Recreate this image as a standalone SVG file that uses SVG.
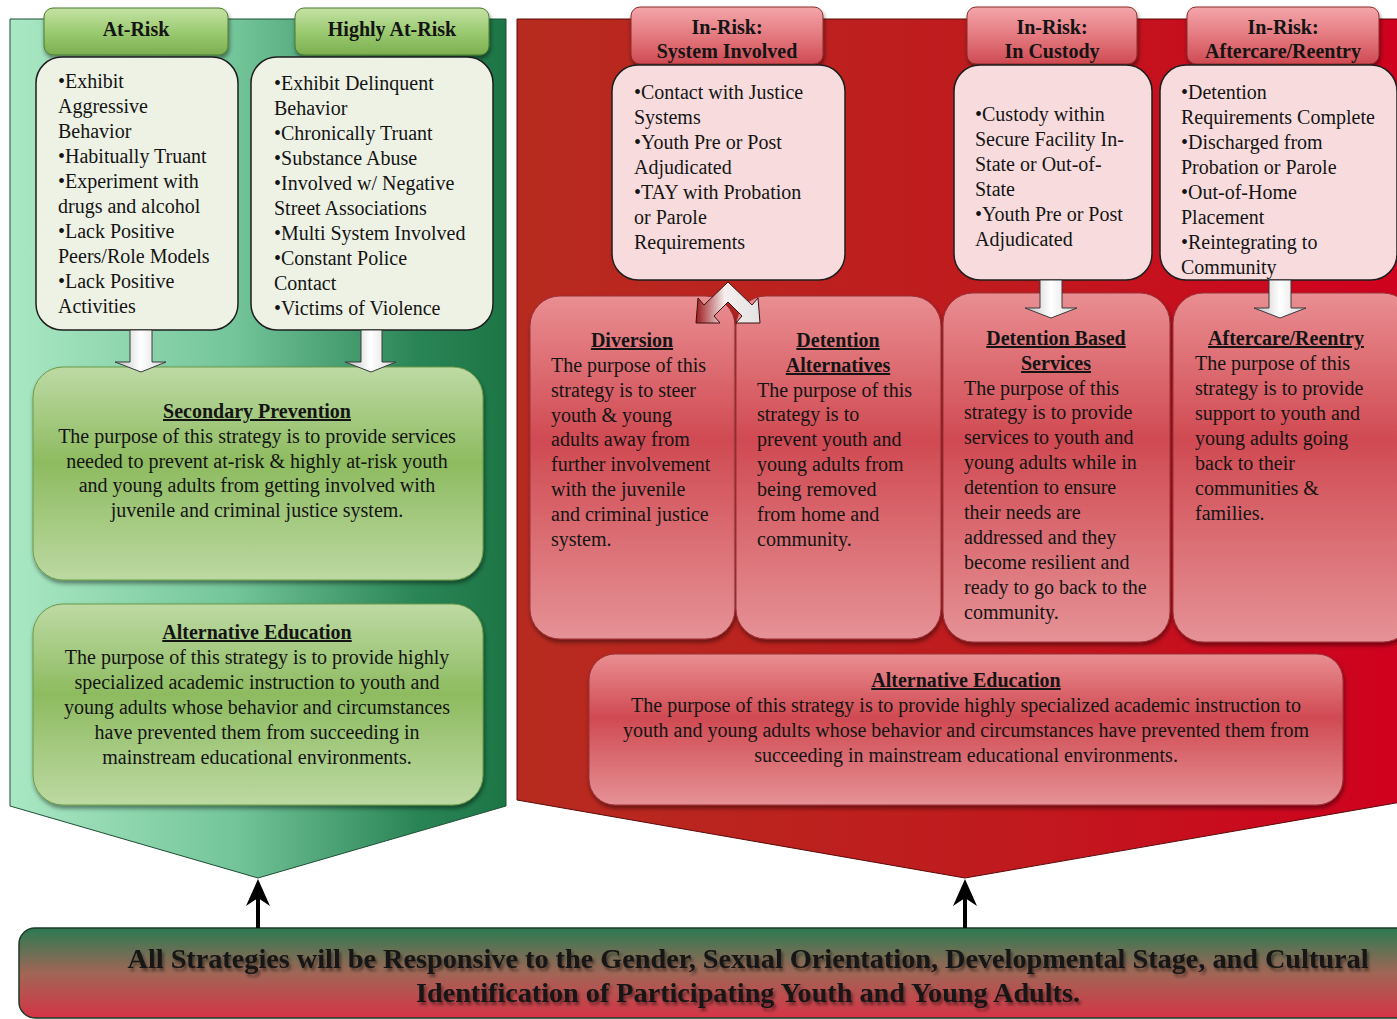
<svg xmlns="http://www.w3.org/2000/svg" width="1397" height="1019" viewBox="0 0 1397 1019">
<style>
.t{font-family:"Liberation Serif","Times New Roman",serif;font-size:20px;fill:#141414}
.b{font-weight:bold}
.c{text-anchor:middle}
.u{text-decoration:underline}
.glist{fill:#eef2e5;stroke:#1e1e1e;stroke-width:1.5}
.rlist{fill:#f8dcdd;stroke:#1e1e1e;stroke-width:1.5}
.gtab{fill:url(#gGreenTab);stroke:#4a7a30;stroke-width:1}
.rtab{fill:url(#gRedTab);stroke:#8a2a2a;stroke-width:1}
.gbox{fill:url(#gGreenBox);stroke:#6a9a48;stroke-width:1}
.rbox{fill:url(#gRedBox);stroke:#9a3036;stroke-width:1}
.darr{fill:url(#gArrow);stroke:#3a3a3a;stroke-width:1}
</style>
<defs>
<linearGradient id="gGreenBg" x1="0" y1="0" x2="1" y2="0">
<stop offset="0" stop-color="#aae8c4"/><stop offset="0.45" stop-color="#74c59a"/><stop offset="0.82" stop-color="#2a8556"/><stop offset="1" stop-color="#1c7545"/>
</linearGradient>
<linearGradient id="gRedBg" x1="0" y1="0" x2="1" y2="0">
<stop offset="0" stop-color="#b72b1f"/><stop offset="0.55" stop-color="#c01a1e"/><stop offset="1" stop-color="#d0001e"/>
</linearGradient>
<linearGradient id="gGreenTab" x1="0" y1="0" x2="0" y2="1">
<stop offset="0" stop-color="#c4e2a4"/><stop offset="0.5" stop-color="#9ccb72"/><stop offset="1" stop-color="#7cae50"/>
</linearGradient>
<linearGradient id="gRedTab" x1="0" y1="0" x2="0" y2="1">
<stop offset="0" stop-color="#f4a6aa"/><stop offset="0.5" stop-color="#e47a80"/><stop offset="1" stop-color="#cf4a52"/>
</linearGradient>
<linearGradient id="gGreenBox" x1="0" y1="0" x2="0" y2="1">
<stop offset="0" stop-color="#bddaa4"/><stop offset="0.45" stop-color="#8ebb60"/><stop offset="1" stop-color="#bcd9a2"/>
</linearGradient>
<linearGradient id="gRedBox" x1="0" y1="0" x2="0" y2="1">
<stop offset="0" stop-color="#e98e92"/><stop offset="0.42" stop-color="#d04a52"/><stop offset="1" stop-color="#e59296"/>
</linearGradient>
<linearGradient id="gArrow" x1="0" y1="0" x2="1" y2="0">
<stop offset="0" stop-color="#bdbdbd"/><stop offset="0.5" stop-color="#ffffff"/><stop offset="1" stop-color="#d6d6d6"/>
</linearGradient>
<linearGradient id="gSplit" x1="0" y1="0" x2="1" y2="0">
<stop offset="0" stop-color="#9c1a1e"/><stop offset="0.45" stop-color="#f6eeee"/><stop offset="1" stop-color="#e2e2e2"/>
</linearGradient>
<linearGradient id="gBar" x1="0" y1="0" x2="0" y2="1">
<stop offset="0" stop-color="#2b7a52"/><stop offset="0.5" stop-color="#a06656"/><stop offset="1" stop-color="#d63446"/>
</linearGradient>
<filter id="sh" x="-10%" y="-10%" width="120%" height="130%">
<feDropShadow dx="1" dy="3" stdDeviation="2" flood-color="#000" flood-opacity="0.45"/>
</filter>
<filter id="tsh" x="-5%" y="-20%" width="110%" height="150%">
<feDropShadow dx="2" dy="3" stdDeviation="1.5" flood-color="#000" flood-opacity="0.45"/>
</filter>
</defs>

<rect width="1397" height="1019" fill="#ffffff"/>

<!-- Backgrounds -->
<g id="green-panel">
<polygon points="10,19 506,19 506,806 258,878 10,806" fill="url(#gGreenBg)" stroke="#1f4f35" stroke-width="1"/>
</g>
<g id="red-panel">
<polygon points="517,19 1413,19 1413,800 965,878 517,800" fill="url(#gRedBg)" stroke="#5a0a0a" stroke-width="1"/>
</g>

<!-- Green side -->
<g id="at-risk">
<rect class="gtab" x="44" y="8" width="184" height="47" rx="9" filter="url(#sh)"/>
<text class="t b c" x="136" y="36">At-Risk</text>
<rect class="glist" x="36" y="57" width="202" height="273" rx="26"/>
<text class="t" x="58" y="88">•Exhibit</text>
<text class="t" x="58" y="113">Aggressive</text>
<text class="t" x="58" y="138">Behavior</text>
<text class="t" x="58" y="163">•Habitually Truant</text>
<text class="t" x="58" y="188">•Experiment with</text>
<text class="t" x="58" y="213">drugs and alcohol</text>
<text class="t" x="58" y="238">•Lack Positive</text>
<text class="t" x="58" y="263">Peers/Role Models</text>
<text class="t" x="58" y="288">•Lack Positive</text>
<text class="t" x="58" y="313">Activities</text>
</g>

<g id="highly-at-risk">
<rect class="gtab" x="295" y="8" width="194" height="47" rx="9" filter="url(#sh)"/>
<text class="t b c" x="392" y="36">Highly At-Risk</text>
<rect class="glist" x="251" y="57" width="242" height="273" rx="26"/>
<text class="t" x="274" y="90">•Exhibit Delinquent</text>
<text class="t" x="274" y="115">Behavior</text>
<text class="t" x="274" y="140">•Chronically Truant</text>
<text class="t" x="274" y="165">•Substance Abuse</text>
<text class="t" x="274" y="190">•Involved w/ Negative</text>
<text class="t" x="274" y="215">Street Associations</text>
<text class="t" x="274" y="240">•Multi System Involved</text>
<text class="t" x="274" y="265">•Constant Police</text>
<text class="t" x="274" y="290">Contact</text>
<text class="t" x="274" y="315">•Victims of Violence</text>
</g>

<g id="secondary-prevention">
<rect class="gbox" x="33" y="367" width="450" height="213" rx="30" filter="url(#sh)"/>
<text class="t b c u" x="257" y="418">Secondary Prevention</text>
<text class="t c" x="257" y="443">The purpose of this strategy is to provide services</text>
<text class="t c" x="257" y="468">needed to prevent at-risk &amp; highly at-risk youth</text>
<text class="t c" x="257" y="492">and young adults from getting involved with</text>
<text class="t c" x="257" y="517">juvenile and criminal justice system.</text>
</g>

<g id="alt-education-green">
<rect class="gbox" x="33" y="604" width="450" height="201" rx="30" filter="url(#sh)"/>
<text class="t b c u" x="257" y="639">Alternative Education</text>
<text class="t c" x="257" y="664">The purpose of this strategy is to provide highly</text>
<text class="t c" x="257" y="689">specialized academic instruction to youth and</text>
<text class="t c" x="257" y="714">young adults whose behavior and circumstances</text>
<text class="t c" x="257" y="739">have prevented them from succeeding in</text>
<text class="t c" x="257" y="764">mainstream educational environments.</text>
</g>

<!-- Red side -->
<g id="system-involved">
<rect class="rtab" x="631" y="7" width="192" height="57" rx="9" filter="url(#sh)"/>
<text class="t b c" x="727" y="34">In-Risk:</text>
<text class="t b c" x="727" y="58">System Involved</text>
<rect class="rlist" x="612" y="65" width="233" height="215" rx="26"/>
<text class="t" x="634" y="99">•Contact with Justice</text>
<text class="t" x="634" y="124">Systems</text>
<text class="t" x="634" y="149">•Youth Pre or Post</text>
<text class="t" x="634" y="174">Adjudicated</text>
<text class="t" x="634" y="199">•TAY with Probation</text>
<text class="t" x="634" y="224">or Parole</text>
<text class="t" x="634" y="249">Requirements</text>
</g>

<g id="in-custody">
<rect class="rtab" x="967" y="7" width="170" height="57" rx="9" filter="url(#sh)"/>
<text class="t b c" x="1052" y="34">In-Risk:</text>
<text class="t b c" x="1052" y="58">In Custody</text>
<rect class="rlist" x="954" y="65" width="198" height="215" rx="26"/>
<text class="t" x="975" y="121">•Custody within</text>
<text class="t" x="975" y="146">Secure Facility In-</text>
<text class="t" x="975" y="171">State or Out-of-</text>
<text class="t" x="975" y="196">State</text>
<text class="t" x="975" y="221">•Youth Pre or Post</text>
<text class="t" x="975" y="246">Adjudicated</text>
</g>

<g id="aftercare-reentry">
<rect class="rtab" x="1187" y="7" width="192" height="57" rx="9" filter="url(#sh)"/>
<text class="t b c" x="1283" y="34">In-Risk:</text>
<text class="t b c" x="1283" y="58">Aftercare/Reentry</text>
<rect class="rlist" x="1160" y="65" width="237" height="215" rx="26"/>
<text class="t" x="1181" y="99">•Detention</text>
<text class="t" x="1181" y="124">Requirements Complete</text>
<text class="t" x="1181" y="149">•Discharged from</text>
<text class="t" x="1181" y="174">Probation or Parole</text>
<text class="t" x="1181" y="199">•Out-of-Home</text>
<text class="t" x="1181" y="224">Placement</text>
<text class="t" x="1181" y="249">•Reintegrating to</text>
<text class="t" x="1181" y="274">Community</text>
</g>

<g id="diversion">
<rect class="rbox" x="530" y="296" width="205" height="343" rx="30" filter="url(#sh)"/>
<text class="t b c u" x="632" y="347">Diversion</text>
<text class="t" x="551" y="372">The purpose of this</text>
<text class="t" x="551" y="397">strategy is to steer</text>
<text class="t" x="551" y="422">youth &amp; young</text>
<text class="t" x="551" y="446">adults away from</text>
<text class="t" x="551" y="471">further involvement</text>
<text class="t" x="551" y="496">with the juvenile</text>
<text class="t" x="551" y="521">and criminal justice</text>
<text class="t" x="551" y="546">system.</text>
</g>

<g id="detention-alternatives">
<rect class="rbox" x="736" y="296" width="205" height="343" rx="30" filter="url(#sh)"/>
<text class="t b c u" x="838" y="347">Detention</text>
<text class="t b c u" x="838" y="372">Alternatives</text>
<text class="t" x="757" y="397">The purpose of this</text>
<text class="t" x="757" y="421">strategy is to</text>
<text class="t" x="757" y="446">prevent youth and</text>
<text class="t" x="757" y="471">young adults from</text>
<text class="t" x="757" y="496">being removed</text>
<text class="t" x="757" y="521">from home and</text>
<text class="t" x="757" y="546">community.</text>
</g>

<g id="detention-based-services">
<rect class="rbox" x="943" y="293" width="227" height="349" rx="30" filter="url(#sh)"/>
<text class="t b c u" x="1056" y="345">Detention Based</text>
<text class="t b c u" x="1056" y="370">Services</text>
<text class="t" x="964" y="395">The purpose of this</text>
<text class="t" x="964" y="419">strategy is to provide</text>
<text class="t" x="964" y="444">services to youth and</text>
<text class="t" x="964" y="469">young adults while in</text>
<text class="t" x="964" y="494">detention to ensure</text>
<text class="t" x="964" y="519">their needs are</text>
<text class="t" x="964" y="544">addressed and they</text>
<text class="t" x="964" y="569">become resilient and</text>
<text class="t" x="964" y="594">ready to go back to the</text>
<text class="t" x="964" y="619">community.</text>
</g>

<g id="aftercare-reentry-strategy">
<rect class="rbox" x="1173" y="293" width="240" height="349" rx="30" filter="url(#sh)"/>
<text class="t b c u" x="1286" y="345">Aftercare/Reentry</text>
<text class="t" x="1195" y="370">The purpose of this</text>
<text class="t" x="1195" y="395">strategy is to provide</text>
<text class="t" x="1195" y="420">support to youth and</text>
<text class="t" x="1195" y="445">young adults going</text>
<text class="t" x="1195" y="470">back to their</text>
<text class="t" x="1195" y="495">communities &amp;</text>
<text class="t" x="1195" y="520">families.</text>
</g>

<g id="alt-education-red">
<rect class="rbox" x="589" y="654" width="754" height="151" rx="26" filter="url(#sh)"/>
<text class="t b c u" x="966" y="687">Alternative Education</text>
<text class="t c" x="966" y="712">The purpose of this strategy is to provide highly specialized academic instruction to</text>
<text class="t c" x="966" y="737">youth and young adults whose behavior and circumstances have prevented them from</text>
<text class="t c" x="966" y="762">succeeding in mainstream educational environments.</text>
</g>

<g id="responsive-bar">
<rect x="19" y="928" width="1400" height="90" rx="16" fill="url(#gBar)" stroke="#1e3a28" stroke-width="1.5"/>
<g filter="url(#tsh)">
<text class="t b c" x="748" y="968" style="font-size:27px" textLength="1241" lengthAdjust="spacingAndGlyphs">All Strategies will be Responsive to the Gender, Sexual Orientation, Developmental Stage, and Cultural</text>
<text class="t b c" x="748" y="1002" style="font-size:27px" textLength="664" lengthAdjust="spacingAndGlyphs">Identification of Participating Youth and Young Adults.</text>
</g>
</g>

<!-- Connectors -->
<g id="connectors">
<polygon class="darr" points="130,330 152,330 152,362 166,362 141,372 115,362 130,362"/>
<polygon class="darr" points="361,330 382,330 382,362 396,362 371,372 345,362 361,362"/>
<polygon class="darr" points="1040,280 1062,280 1062,308 1077,308 1051,318 1025,308 1040,308"/>
<polygon class="darr" points="1269,280 1291,280 1291,308 1306,308 1280,318 1254,308 1269,308"/>
<path d="M728,282 L752,305 L758,298 L760,323 L736,323 L742,316 L728,302 L714,316 L720,323 L696,323 L698,298 L704,305 Z" fill="url(#gSplit)" stroke="#3a1010" stroke-width="1"/>
<line x1="258" y1="928" x2="258" y2="895" stroke="#000" stroke-width="4"/>
<polygon points="258,879 270,906 258,898 246,906" fill="#000"/>
<line x1="965" y1="928" x2="965" y2="895" stroke="#000" stroke-width="4"/>
<polygon points="965,879 977,906 965,898 953,906" fill="#000"/>
</g>
</svg>
